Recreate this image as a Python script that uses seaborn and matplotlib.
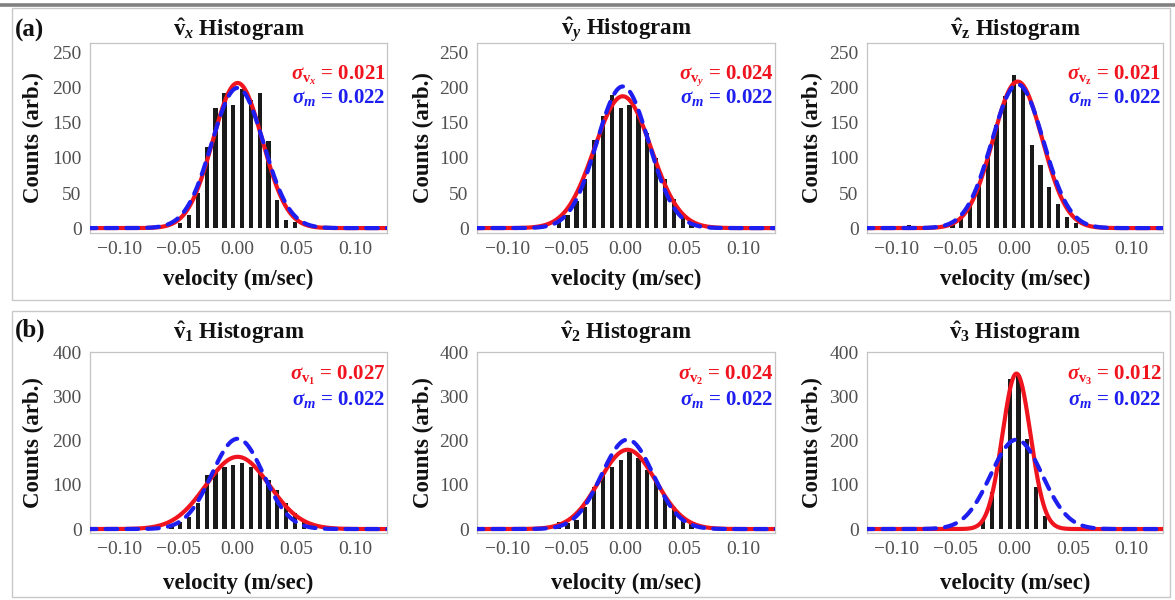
import numpy as np
import pandas as pd
import matplotlib
matplotlib.use("Agg")
import matplotlib.pyplot as plt
import seaborn as sns
from matplotlib.patches import Rectangle
from matplotlib.lines import Line2D

sns.set_theme(style="white")
plt.rcParams['font.family'] = ['Liberation Serif', 'DejaVu Serif']
plt.rcParams['mathtext.fontset'] = 'custom'
plt.rcParams['mathtext.rm'] = 'Liberation Serif'
plt.rcParams['mathtext.it'] = 'Liberation Serif:italic:bold'
plt.rcParams['mathtext.bf'] = 'Liberation Serif:bold'

# ---------------- data ----------------
BIN_W = 0.0075

# histogram bin centres and counts, one pair per panel
centers_vx = [-0.04875, -0.04125, -0.03375, -0.02625, -0.01875, -0.01125, -0.00375,
              0.00375, 0.01125, 0.01875, 0.02625, 0.03375, 0.04125, 0.04875]
counts_vx = [7, 19, 50, 116, 171, 193, 175, 198, 183, 193, 124, 40, 11, 9]

centers_vy = [-0.05625, -0.04875, -0.04125, -0.03375, -0.02625, -0.01875, -0.01125, -0.00375,
              0.00375, 0.01125, 0.01875, 0.02625, 0.03375, 0.04125, 0.04875, 0.05625]
counts_vy = [10, 18, 38, 70, 125, 160, 190, 172, 175, 165, 135, 100, 70, 42, 20, 10]

centers_vz = [-0.09, -0.0525, -0.045, -0.0375, -0.03, -0.0225, -0.015, -0.0075,
              0.0, 0.0075, 0.015, 0.0225, 0.03, 0.0375, 0.045, 0.0525]
counts_vz = [4, 7, 14, 35, 61, 107, 147, 188, 219, 200, 119, 90, 59, 35, 16, 7]

centers_v1 = [-0.05625, -0.04875, -0.04125, -0.03375, -0.02625, -0.01875, -0.01125, -0.00375,
              0.00375, 0.01125, 0.01875, 0.02625, 0.03375, 0.04125, 0.04875, 0.05625]
counts_v1 = [8, 17, 28, 58, 123, 134, 142, 145, 151, 142, 134, 111, 89, 58, 36, 17]

centers_v2 = [-0.05625, -0.04875, -0.04125, -0.03375, -0.02625, -0.01875, -0.01125, -0.00375,
              0.00375, 0.01125, 0.01875, 0.02625, 0.03375, 0.04125, 0.04875, 0.05625]
counts_v2 = [17, 13, 20, 51, 96, 126, 142, 157, 175, 161, 134, 111, 73, 51, 20, 17]

centers_v3 = [-0.02625, -0.01875, -0.01125, -0.00375, 0.00375, 0.01125, 0.01875, 0.02625]
counts_v3 = [20, 85, 195, 340, 350, 205, 95, 30]

# Gaussian fits: sigma shown in the chart, peak height and centre
sigma_fit = [0.021, 0.024, 0.021, 0.027, 0.024, 0.012]
sigma_m = 0.022
peak_fit = [207, 188, 209, 164, 180, 353]
peak_m = [200, 202, 205, 205, 203, 203]
mu_fit = [0.0, -0.002, 0.003, 0.0, 0.002, 0.002]

titles = [r"$\mathbf{\hat{v}}_{\mathit{x}}$ Histogram",
          r"$\mathbf{\hat{v}}_{\mathit{y}}$ Histogram",
          r"$\mathbf{\hat{v}}_{\mathbf{z}}$ Histogram",
          r"$\mathbf{\hat{v}}_{\mathbf{1}}$ Histogram",
          r"$\mathbf{\hat{v}}_{\mathbf{2}}$ Histogram",
          r"$\mathbf{\hat{v}}_{\mathbf{3}}$ Histogram"]
sub_labels = [r"\mathit{x}", r"\mathit{y}", r"\mathbf{z}", r"\mathbf{1}", r"\mathbf{2}", r"\mathbf{3}"]

xticks = [-0.10, -0.05, 0.00, 0.05, 0.10]
xtick_labels = ["\u22120.10", "\u22120.05", "0.00", "0.05", "0.10"]
yticks_a = [0, 50, 100, 150, 200, 250]
yticks_b = [0, 100, 200, 300, 400]

centers_all = [centers_vx, centers_vy, centers_vz, centers_v1, centers_v2, centers_v3]
counts_all = [counts_vx, counts_vy, counts_vz, counts_v1, counts_v2, counts_v3]

# ---------------- figure ----------------
W, H = 1175, 600
fig = plt.figure(figsize=(W / 100, H / 100), dpi=100)
fig.patch.set_facecolor("white")

def rect(l, t, r, b):
    return [l / W, 1 - b / H, (r - l) / W, (b - t) / H]

# outer frames
fig.add_artist(Rectangle((12 / W, 1 - 300 / H), (1170 - 12) / W, (300 - 8) / H,
                         transform=fig.transFigure, fill=False, ec="#c8c8c8", lw=1.0))
fig.add_artist(Rectangle((12 / W, 1 - 597 / H), (1170 - 12) / W, (597 - 311) / H,
                         transform=fig.transFigure, fill=False, ec="#c8c8c8", lw=1.0))
fig.add_artist(Line2D([0, 1], [1 - 5 / H, 1 - 5 / H], transform=fig.transFigure,
                      color="#808080", lw=2.6))

cols = [(90, 387), (477, 775), (867, 1163)]
rows = [(43, 233), (352, 533)]
ylims = [(-7, 264), (-9, 402)]
ylab_x = [33, 423, 812]
red = "#f0141e"
blue = "#1e1ef0"

xgrid = np.linspace(-0.13, 0.13, 800)

for i in range(6):
    r, c = divmod(i, 3)
    l, rr = cols[c]
    t, b = rows[r]
    ax = fig.add_axes(rect(l, t, rr, b))
    df = pd.DataFrame({"v": centers_all[i], "n": counts_all[i]})
    lo = df["v"].min() - BIN_W / 2
    nb = int(round((df["v"].max() - df["v"].min()) / BIN_W)) + 1
    edges = list(lo + BIN_W * np.arange(nb + 1))
    sns.histplot(data=df, x="v", weights="n", bins=edges, shrink=0.48, color="#1a1a1a",
                 alpha=1.0, linewidth=0, ax=ax, zorder=2)
    fits = pd.DataFrame({
        "x": xgrid,
        "red": peak_fit[i] * np.exp(-(xgrid - mu_fit[i]) ** 2 / (2 * sigma_fit[i] ** 2)),
        "blue": peak_m[i] * np.exp(-(xgrid - mu_fit[i]) ** 2 / (2 * sigma_m ** 2)),
    })
    sns.lineplot(data=fits, x="x", y="red", color=red, lw=3.0, ax=ax, sort=False,
                 estimator=None, zorder=3)
    sns.lineplot(data=fits, x="x", y="blue", color=blue, lw=3.0, ax=ax, sort=False,
                 estimator=None, zorder=4)
    ax.lines[-1].set_dashes([2.8, 2.2])
    ax.lines[-1].set_dash_capstyle("round")

    ax.set_xlim(-0.1255, 0.127)
    ax.set_ylim(*ylims[r])
    ax.set_xticks(xticks)
    ax.set_xticklabels(xtick_labels)
    ax.set_yticks(yticks_a if r == 0 else yticks_b)
    ax.tick_params(axis="both", length=0, labelsize=14, labelcolor="#505050")
    ax.tick_params(axis="x", pad=6)
    ax.tick_params(axis="y", pad=6)
    ax.set_xlabel("")
    ax.set_ylabel("")
    for s in ax.spines.values():
        s.set_color("#c4c4c4")
        s.set_linewidth(0.9)
        s.set_linestyle((0, (2, 1)))

    # annotations
    if r == 0:
        yr_t, yb_t = 0.83, 0.712
    else:
        yr_t, yb_t = 0.872, 0.735
    ax.text(0.995, yr_t, r"$\sigma_{\mathbf{v}_{%s}}$ = %.3f" % (sub_labels[i], sigma_fit[i]),
            transform=ax.transAxes, ha="right", va="center", color=red,
            fontsize=15, fontweight="bold")
    ax.text(0.995, yb_t, r"$\sigma_{\mathit{m}}$ = %.3f" % sigma_m,
            transform=ax.transAxes, ha="right", va="center", color=blue,
            fontsize=15, fontweight="bold")

    # title / axis labels
    cx = (l + rr) / 2
    fig.text(cx / W, 1 - (30 if r == 0 else 333) / H, titles[i], ha="center", va="center",
             fontsize=16.5, fontweight="bold", color="#111111")
    fig.text(cx / W, 1 - (279 if r == 0 else 583) / H, "velocity (m/sec)", ha="center",
             va="center", fontsize=16.5, fontweight="bold", color="#111111")
    fig.text(ylab_x[c] / W, 1 - ((t + b) / 2) / H, "Counts (arb.)", ha="center", va="center",
             rotation=90, fontsize=16.5, fontweight="bold", color="#111111")

fig.text(15 / W, 1 - 30 / H, "(a)", ha="left", va="center", fontsize=18, fontweight="bold",
         color="#111111")
fig.text(15 / W, 1 - 330 / H, "(b)", ha="left", va="center", fontsize=18, fontweight="bold",
         color="#111111")

fig.savefig("out.png", dpi=100, facecolor="white")
